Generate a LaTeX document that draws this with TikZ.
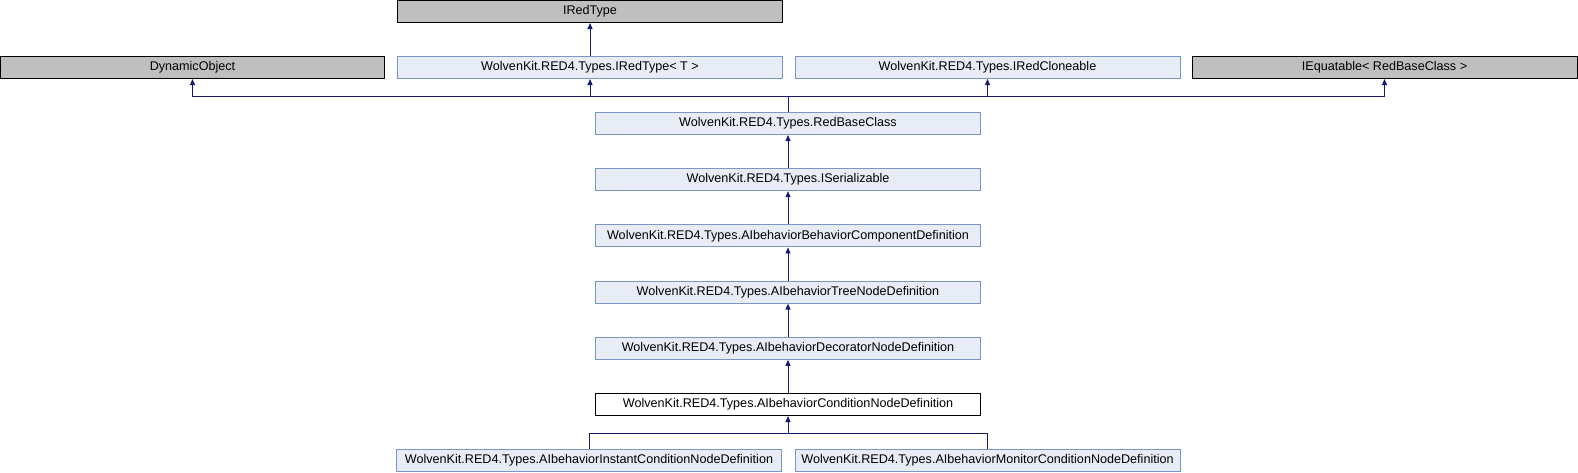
\documentclass[tikz,border=0pt]{standalone}
\usepackage{fontspec}
\setmainfont{Liberation Sans}
\usetikzlibrary{arrows.meta}
\definecolor{edgeblue}{RGB}{25,25,112}
\definecolor{clsfill}{RGB}{232,236,245}
\definecolor{clsline}{RGB}{124,149,200}
\definecolor{extfill}{RGB}{191,191,191}

\begin{document}
\begin{tikzpicture}[
  x=1pt, y=-1pt,
  cls/.style={draw=clsline, fill=clsfill, line width=1pt, minimum width=385pt, minimum height=22pt, inner sep=0pt, font=\fontsize{12.6}{14}\selectfont},
  ext/.style={cls, draw=black, fill=extfill},
  cur/.style={cls, draw=black, fill=white},
  inh/.style={draw=edgeblue, line width=1pt, -{Triangle[length=6pt, width=5pt]}}
]
  \useasboundingbox (0,0) rectangle (1578,472);

  % base interfaces and classes
  \node[ext] (iredtype) at (590,11.5) {IRedType};
  \node[ext, minimum width=384pt] (dynobj) at (192.5,67.5) {DynamicObject};
  \node[cls] (iredtypet) at (590,67.5) {WolvenKit.RED4.Types.IRedType< T >};
  \node[cls] (iredclone) at (987.5,67.5) {WolvenKit.RED4.Types.IRedCloneable};
  \node[ext] (iequat) at (1384.5,67.5) {IEquatable< RedBaseClass >};

  % main chain
  \node[cls] (redbase) at (788,123.5) {WolvenKit.RED4.Types.RedBaseClass};
  \node[cls] (iserial) at (788,179.7) {WolvenKit.RED4.Types.ISerializable};
  \node[cls] (behcomp) at (788,235.9) {WolvenKit.RED4.Types.AIbehaviorBehaviorComponentDefinition};
  \node[cls] (treenode) at (788,292.1) {WolvenKit.RED4.Types.AIbehaviorTreeNodeDefinition};
  \node[cls] (decor) at (788,348.3) {WolvenKit.RED4.Types.AIbehaviorDecoratorNodeDefinition};
  \node[cur] (cond) at (788,404.5) {WolvenKit.RED4.Types.AIbehaviorConditionNodeDefinition};

  % derived classes
  \node[cls] (instant) at (589,460.5) {WolvenKit.RED4.Types.AIbehaviorInstantConditionNodeDefinition};
  \node[cls] (monitor) at (987.5,460.5) {WolvenKit.RED4.Types.AIbehaviorMonitorConditionNodeDefinition};

  \coordinate (topbus) at (788,96);
  \coordinate (lowbus) at (788,433);

  \draw[inh] (iredtypet) -- (iredtype);
  \draw[inh] (redbase.north) -- (topbus) -| (dynobj.south);
  \draw[inh] (topbus) -| (iredtypet.south);
  \draw[inh] (topbus) -| (iredclone.south);
  \draw[inh] (topbus) -| (iequat.south);

  \draw[inh] (iserial) -- (redbase);
  \draw[inh] (behcomp) -- (iserial);
  \draw[inh] (treenode) -- (behcomp);
  \draw[inh] (decor) -- (treenode);
  \draw[inh] (cond) -- (decor);

  \draw[inh] (instant.north) |- (lowbus) -- (cond.south);
  \draw[edgeblue, line width=1pt] (monitor.north) |- (lowbus);
\end{tikzpicture}
\end{document}
